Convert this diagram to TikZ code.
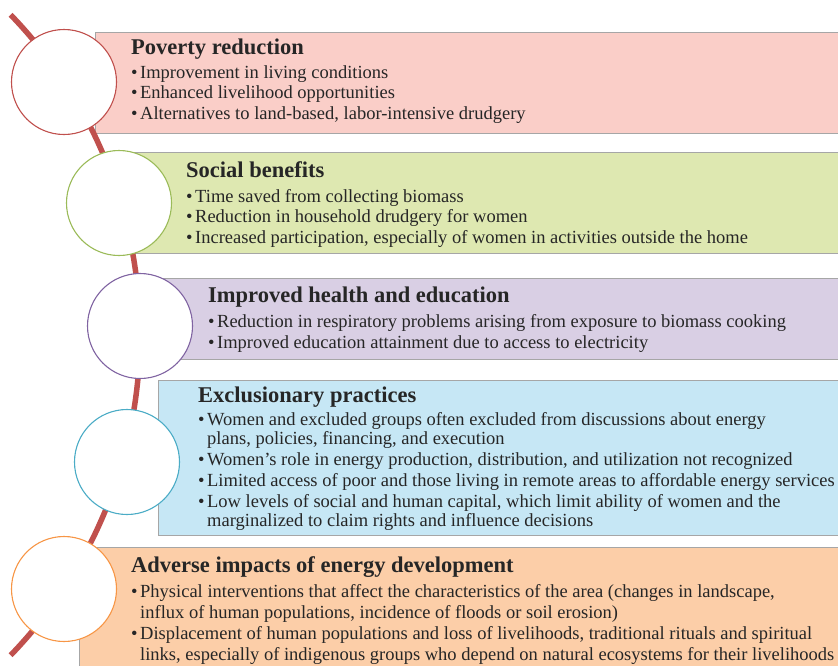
\documentclass[tikz,border=0pt]{standalone}
\usepackage{fontspec}
\setmainfont{Liberation Serif}
\usetikzlibrary{positioning}

\definecolor{arcred}{RGB}{192,80,77}
\definecolor{edgegray}{RGB}{166,166,166}
\definecolor{ink}{RGB}{38,38,38}
\definecolor{povfill}{RGB}{250,206,200}
\definecolor{socfill}{RGB}{222,232,177}
\definecolor{heafill}{RGB}{217,207,228}
\definecolor{excfill}{RGB}{198,231,245}
\definecolor{advfill}{RGB}{252,206,168}
\definecolor{socring}{RGB}{155,187,89}
\definecolor{hearing}{RGB}{128,100,162}
\definecolor{excring}{RGB}{75,172,198}
\definecolor{advring}{RGB}{247,150,70}

\tikzset{
  panel/.style={draw=edgegray, line width=1.3pt, fill=#1, anchor=north west,
    minimum width=760pt, inner sep=0pt},
  ring/.style={circle, draw=#1, fill=white, line width=1.1pt, minimum size=105pt, inner sep=0pt},
  head/.style={anchor=base west, inner sep=0pt, text=ink,
    font=\fontsize{22.5}{26}\selectfont\bfseries},
  % lists are placed by the baseline of their last line
  items/.style={anchor=base west, inner sep=0pt, text=ink, align=left,
    font=\fontsize{18.5}{20.5}\selectfont},
}
\newcommand{\bul}{\makebox[9pt][l]{\textbullet}}
\newcommand{\cont}{\hspace*{9pt}}

\begin{document}
\begin{tikzpicture}[x=1pt,y=-1pt]
  \useasboundingbox (0,0) rectangle (838,665);
  % coloured panels
  \node[panel=povfill, minimum height=101pt] (povbox) at (95,32) {};
  \node[panel=socfill, minimum height=101pt] (socbox) at (130,152) {};
  \node[panel=heafill, minimum height=81pt] (heabox) at (155,278) {};
  \node[panel=excfill, minimum height=155pt] (excbox) at (158,380) {};
  \node[panel=advfill, minimum height=140pt] (advbox) at (79,547) {};
  % the arc behind the rings
  \draw[arcred, line width=5.5pt] (-321,335) ++(-44:461) arc[start angle=-44, end angle=44, radius=461];
  \node[ring=arcred] (pov) at (64,82) {};
  \node[ring=socring] (soc) at (119,203) {};
  \node[ring=hearing] (hea) at (140,326) {};
  \node[ring=excring] (exc) at (127,462) {};
  \node[ring=advring] (adv) at (64,589) {};
  % texts
  \node[head] (povhead) at (131,54) {Poverty reduction};
  \node[items] (povlist) at (131,119) {\bul Improvement in living conditions\\
    \bul Enhanced livelihood opportunities\\
    \bul Alternatives to land-based, labor-intensive drudgery};
  \node[head] (sochead) at (186,177) {Social benefits};
  \node[items] (soclist) at (186,243) {\bul Time saved from collecting biomass\\
    \bul Reduction in household drudgery for women\\
    \bul Increased participation, especially of women in activities outside the home};
  \node[head] (heahead) at (208,302) {Improved health and education};
  \node[items] (healist) at (208,348) {\bul Reduction in respiratory problems arising from exposure to biomass cooking\\
    \bul Improved education attainment due to access to electricity};
  \node[head] (exchead) at (198,402) {Exclusionary practices};
  \node[items, font=\fontsize{18.5}{19}\selectfont] (exclist) at (198,526) {\bul Women and excluded groups often excluded from discussions about energy\\
    \cont plans, policies, financing, and execution\\[2pt]
    \bul Women's role in energy production, distribution, and utilization not recognized\\[2pt]
    \bul Limited access of poor and those living in remote areas to affordable energy services\\[2pt]
    \bul Low levels of social and human capital, which limit ability of women and the\\
    \cont marginalized to claim rights and influence decisions};
  \node[head] (advhead) at (131,572) {Adverse impacts of energy development};
  \node[items, font=\fontsize{18.5}{21}\selectfont] (advlist) at (131,660) {\bul Physical interventions that affect the characteristics of the area (changes in landscape,\\
    \cont influx of human populations, incidence of floods or soil erosion)\\
    \bul Displacement of human populations and loss of livelihoods, traditional rituals and spiritual\\
    \cont links, especially of indigenous groups who depend on natural ecosystems for their livelihoods};
\end{tikzpicture}
\end{document}
